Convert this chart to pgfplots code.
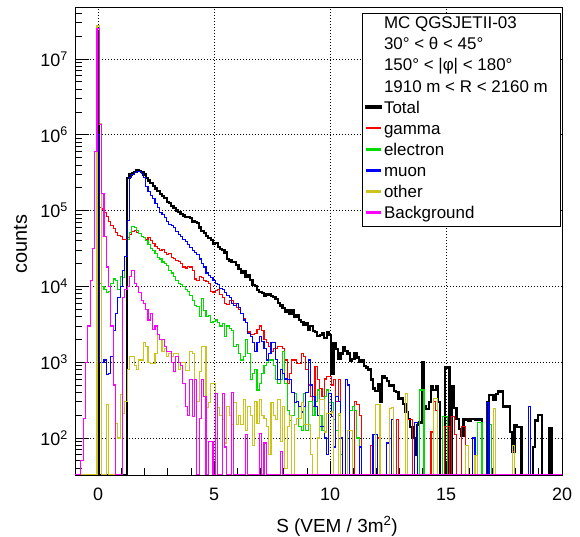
\documentclass[border=0pt]{standalone}
\usepackage{fontspec}
\setmainfont{Liberation Sans}
\usepackage{pgfplots}
\pgfplotsset{compat=1.18}
\definecolor{cTot}{RGB}{0,0,0}
\definecolor{cGam}{RGB}{255,0,0}
\definecolor{cEle}{RGB}{0,220,0}
\definecolor{cMu}{RGB}{0,0,255}
\definecolor{cOth}{RGB}{205,195,30}
\definecolor{cBkg}{RGB}{255,0,255}
\begin{document}
\begin{tikzpicture}
\begin{axis}[
  scale only axis, width=487bp, height=468bp,
  xmin=-1, xmax=20, ymode=log, ymin=32.5, ymax=4.85e7,
  axis line style={line width=0.9bp},
  tick align=inside, xtick pos=lower, ytick pos=lower,
  major tick length=14bp, minor tick length=7bp,
  every tick/.style={black, line width=0.8bp},
  xtick={0,5,10,15,20}, xticklabels={0,5,10,15,20},
  minor xtick={-1,1,2,3,4,6,7,8,9,11,12,13,14,16,17,18,19},
  ytick={1e2,1e3,1e4,1e5,1e6,1e7},
  yticklabels={10\textsuperscript{2},10\textsuperscript{3},10\textsuperscript{4},10\textsuperscript{5},10\textsuperscript{6},10\textsuperscript{7}},
  minor ytick={40,50,60,70,80,90,200,300,400,500,600,700,800,900,2e3,3e3,4e3,5e3,6e3,7e3,8e3,9e3,2e4,3e4,4e4,5e4,6e4,7e4,8e4,9e4,2e5,3e5,4e5,5e5,6e5,7e5,8e5,9e5,2e6,3e6,4e6,5e6,6e6,7e6,8e6,9e6,2e7,3e7,4e7},
  xmajorgrids, ymajorgrids,
  major grid style={black, line width=0.8bp, dash pattern=on 0.8bp off 2.2bp},
  tick label style={font=\fontsize{18}{20}\selectfont},
  xticklabel style={anchor=north, inner sep=0pt, yshift=-13bp},
  yticklabel style={anchor=east, inner sep=0pt, xshift=-7bp},
  xlabel={S (VEM / 3m\textsuperscript{2})},
  xlabel style={at={(rel axis cs:0.538,0)}, anchor=base, yshift=-57bp, font=\fontsize{19}{21}\selectfont},
  legend style={at={(rel axis cs:0.5887,0.9878)}, anchor=north west, draw=black, line width=0.9bp, fill=white,
    inner xsep=3.3bp, inner ysep=1bp, row sep=0pt, font=\fontsize{17}{21}\selectfont,
    nodes={inner sep=0pt, text height=14.6bp, text depth=6.5bp},
    /tikz/every odd column/.append style={column sep=2.4bp}},
  legend cell align=left,
  legend style={cells={anchor=base west}},
  legend image code/.code={\fill[#1] (0bp,5.4bp) rectangle (14bp,6.7bp);},
]
\addlegendimage{empty legend}\addlegendentry{MC QGSJETII-03}
\addlegendimage{empty legend}\addlegendentry{30° < θ < 45°}
\addlegendimage{empty legend}\addlegendentry{150° < |φ| < 180°}
\addlegendimage{empty legend}\addlegendentry{\makebox[173bp][l]{1910 m < R < 2160 m}}

% Total
\addplot[const plot, cTot, line width=2.2bp] coordinates {
(-1,32.5) (-0.05,2.3e7) (0.05,32.5)
(1.25,2.7e5) (1.35,3.0e5) (1.45,3.1e5) (1.55,3.2e5) (1.65,3.4e5) (1.75,3.35e5) (1.85,3.2e5) (1.95,3.0e5)
(2.05,2.7e5) (2.15,2.5e5) (2.25,2.3e5) (2.35,2.1e5) (2.45,1.95e5) (2.55,1.8e5) (2.65,1.65e5) (2.75,1.55e5) (2.85,1.45e5) (2.95,1.3e5)
(3.05,1.25e5) (3.15,1.15e5) (3.25,1.08e5) (3.35,1.0e5) (3.45,9.6e4) (3.55,9.0e4) (3.65,8.6e4) (3.75,8.3e4) (3.85,8.2e4) (3.95,7.9e4)
(4.05,7.2e4) (4.15,7.0e4) (4.25,6.8e4) (4.35,6.0e4) (4.45,5.4e4) (4.55,5.1e4) (4.65,4.6e4) (4.75,4.3e4) (4.85,4.1e4) (4.95,3.6e4)
(5.05,3.7e4) (5.15,3.3e4) (5.25,3.1e4) (5.35,3.0e4) (5.45,2.8e4) (5.55,2.3e4) (5.65,2.2e4) (5.75,2.1e4) (5.85,2.1e4) (5.95,1.9e4)
(6.05,1.7e4) (6.15,1.5e4) (6.25,1.6e4) (6.35,1.35e4) (6.45,1.4e4) (6.55,1.2e4) (6.65,1.05e4) (6.75,1.0e4) (6.85,9.0e3) (6.95,8.5e3)
(7.05,8.2e3) (7.15,7.4e3) (7.25,7.8e3) (7.35,8.0e3) (7.45,7.5e3) (7.55,7.2e3) (7.65,6.8e3) (7.75,6.0e3) (7.85,5.6e3) (7.95,5.2e3)
(8.05,4.6e3) (8.15,4.9e3) (8.25,4.3e3) (8.35,4.8e3) (8.45,4.0e3) (8.55,4.2e3) (8.65,3.6e3) (8.75,3.4e3) (8.85,3.1e3) (8.95,3.3e3)
(9.05,2.7e3) (9.15,3.0e3) (9.25,2.6e3) (9.35,2.5e3) (9.45,2.2e3) (9.55,2.3e3) (9.65,2.4e3) (9.75,2.1e3) (9.85,2.5e3) (9.95,2.3e3)
(10.05,700) (10.15,1.8e3) (10.25,1.5e3) (10.35,1.1e3) (10.45,1.3e3) (10.55,1.6e3) (10.65,1.4e3) (10.75,1.3e3) (10.85,1.05e3) (10.95,1.1e3)
(11.05,1.3e3) (11.15,1.15e3) (11.25,1.0e3) (11.35,1.05e3) (11.45,900) (11.55,850) (11.65,800) (11.75,590) (11.85,450) (11.95,420)
(12.05,520) (12.15,300) (12.25,650) (12.35,620) (12.45,560) (12.55,480) (12.65,500) (12.75,420) (12.85,400) (12.95,330)
(13.05,340) (13.15,280) (13.25,220) (13.35,180) (13.45,140) (13.55,100) (13.65,60) (13.75,150) (13.85,160) (13.95,1000)
(14.05,260) (14.15,240) (14.25,300) (14.35,480) (14.45,430) (14.55,480) (14.65,300) (14.75,32.5) (14.95,850)
(15.05,850) (15.15,32.5) (15.25,480) (15.35,250) (15.45,180) (15.55,130) (15.65,107) (15.75,180) (15.85,175) (15.95,170)
(16.05,180) (16.15,180) (16.25,175) (16.35,175) (16.45,175) (16.55,32.5) (16.75,300) (16.85,370) (16.95,370)
(17.05,320) (17.15,380) (17.25,420) (17.35,410) (17.45,260) (17.55,260) (17.65,260) (17.75,120) (17.85,66) (17.95,150)
(18.05,140) (18.15,140) (18.25,32.5) (18.75,76) (18.85,170) (18.95,200) (19.05,200) (19.15,32.5) (19.45,134) (19.55,32.5) (20,32.5)
};
\addlegendentry{Total}

% gamma
\addplot[const plot, cGam, line width=1.1bp] coordinates {
(-1,32.5) (-0.05,1e6) (0.05,1.1e5) (0.15,1.05e5) (0.25,9.5e4) (0.35,8.4e4) (0.45,7.1e4) (0.55,6.3e4) (0.65,5.8e4) (0.75,5.2e4) (0.85,4.7e4) (0.95,4.5e4)
(1.05,4.2e4) (1.15,4.1e4) (1.25,4.4e4) (1.35,4.8e4) (1.45,5.3e4) (1.55,5.4e4) (1.65,5.1e4) (1.75,5.0e4) (1.85,4.6e4) (1.95,4.4e4)
(2.05,4.1e4) (2.15,4.4e4) (2.25,4.0e4) (2.35,3.7e4) (2.45,3.4e4) (2.55,3.2e4) (2.65,3.0e4) (2.75,3.1e4) (2.85,2.8e4) (2.95,2.6e4)
(3.05,2.7e4) (3.15,2.4e4) (3.25,2.35e4) (3.35,2.2e4) (3.45,2.15e4) (3.55,2.0e4) (3.65,1.8e4) (3.75,1.75e4) (3.85,1.85e4) (3.95,1.8e4)
(4.05,1.6e4) (4.15,1.25e4) (4.25,1.2e4) (4.35,1.35e4) (4.45,1.3e4) (4.55,1.2e4) (4.65,1.15e4) (4.75,1.1e4) (4.85,8.5e3) (4.95,8.2e3)
(5.05,8.9e3) (5.15,9.0e3) (5.25,7.8e3) (5.35,7.2e3) (5.45,6.0e3) (5.55,5.8e3) (5.65,6.5e3) (5.75,6.6e3) (5.85,6.0e3) (5.95,5.2e3)
(6.05,4.9e3) (6.15,4.4e3) (6.25,3.8e3) (6.35,3.3e3) (6.45,2.5e3) (6.55,2.3e3) (6.65,2.3e3) (6.75,2.4e3) (6.85,2.7e3) (6.95,3.0e3)
(7.05,2.6e3) (7.15,2.0e3) (7.25,1.8e3) (7.35,1.6e3) (7.45,1.4e3) (7.55,1.5e3) (7.65,1.5e3) (7.75,1.6e3) (7.85,1.6e3) (7.95,1.5e3)
(8.05,1.07e3) (8.15,520) (8.25,700) (8.35,1.07e3) (8.45,1.07e3) (8.55,950) (8.65,950) (8.75,1.3e3) (8.85,1.2e3) (8.95,800)
(9.05,500) (9.15,350) (9.25,260) (9.35,870) (9.45,590) (9.55,450) (9.65,350) (9.75,600) (9.85,640) (9.95,640)
(10.05,500) (10.15,590) (10.25,300) (10.35,590) (10.45,60) (10.55,32.5) (11.05,300) (11.15,275) (11.25,200) (11.35,32.5)
(11.75,80) (11.85,32.5) (12.05,100) (12.15,32.5) (12.85,175) (12.95,32.5) (13.35,175) (13.45,175) (13.55,32.5)
(14.35,120) (14.45,300) (14.55,230) (14.65,32.5) (14.95,140) (15.05,140) (15.15,32.5) (15.25,190) (15.35,110) (15.45,32.5)
(15.65,140) (15.75,140) (15.85,32.5) (17.85,66) (17.95,32.5) (20,32.5)
};
\addlegendentry{gamma}

% electron
\addplot[const plot, cEle, line width=1.1bp] coordinates {
(-1,32.5) (-0.05,1e6) (0.05,1.1e4) (0.15,1.0e4) (0.25,9.0e3) (0.35,8.2e3) (0.45,8.5e3) (0.55,1.1e4) (0.65,1.25e4) (0.75,1.2e4) (0.85,9.0e3) (0.95,1.35e4)
(1.05,1.3e4) (1.15,2.5e4) (1.25,4.1e4) (1.35,5.2e4) (1.45,6.1e4) (1.55,6.0e4) (1.65,5.4e4) (1.75,5.0e4) (1.85,4.6e4) (1.95,4.4e4)
(2.05,4.0e4) (2.15,3.6e4) (2.25,3.2e4) (2.35,3.0e4) (2.45,2.7e4) (2.55,2.4e4) (2.65,2.3e4) (2.75,2.1e4) (2.85,2.0e4) (2.95,1.9e4)
(3.05,1.6e4) (3.15,1.5e4) (3.25,1.35e4) (3.35,1.2e4) (3.45,1.1e4) (3.55,1.05e4) (3.65,1.0e4) (3.75,9.0e3) (3.85,8.6e3) (3.95,7.6e3)
(4.05,6.6e3) (4.15,5.6e3) (4.25,5.4e3) (4.35,4.0e3) (4.45,6.9e3) (4.55,4.8e3) (4.65,4.0e3) (4.75,4.1e3) (4.85,3.3e3) (4.95,3.4e3)
(5.05,3.6e3) (5.15,3.3e3) (5.25,3.0e3) (5.35,3.2e3) (5.45,2.2e3) (5.55,3.0e3) (5.65,2.8e3) (5.75,2.6e3) (5.85,1.6e3) (5.95,1.7e3)
(6.05,1.3e3) (6.15,1.07e3) (6.25,1.2e3) (6.35,2.0e3) (6.45,1.3e3) (6.55,590) (6.65,700) (6.75,800) (6.85,430) (6.95,520)
(7.05,700) (7.15,900) (7.25,1.0e3) (7.35,1.07e3) (7.45,1.07e3) (7.55,900) (7.65,590) (7.75,520) (7.85,590) (7.95,1.4e3)
(8.05,520) (8.15,230) (8.25,170) (8.35,200) (8.45,390) (8.55,300) (8.65,140) (8.75,125) (8.85,390) (8.95,125)
(9.05,300) (9.15,300) (9.25,200) (9.35,300) (9.45,430) (9.55,200) (9.65,125) (9.75,350) (9.85,430) (9.95,290)
(10.05,290) (10.15,175) (10.25,125) (10.35,200) (10.45,60) (10.55,32.5) (10.85,230) (10.95,260) (11.05,230) (11.15,100) (11.25,32.5)
(13.85,430) (13.95,430) (14.05,32.5) (14.85,190) (14.95,190) (15.05,32.5) (16.35,160) (16.45,160) (16.55,32.5) (16.85,150) (16.95,32.5) (20,32.5)
};
\addlegendentry{electron}

% muon
\addplot[const plot, cMu, line width=1.1bp] coordinates {
(-1,32.5) (-0.05,1e6) (0.05,1.0e3) (0.15,1.0e3) (0.25,1.07e3) (0.35,680) (0.45,700) (0.55,1.2e3) (0.65,2.6e3) (0.75,4.4e3) (0.85,7.2e3) (0.95,1.0e4)
(1.05,1.6e4) (1.15,2.5e4) (1.25,7.5e4) (1.35,2.7e5) (1.45,3.0e5) (1.55,3.2e5) (1.65,3.3e5) (1.75,3.3e5) (1.85,3.1e5) (1.95,2.7e5)
(2.05,2.1e5) (2.15,1.8e5) (2.25,1.6e5) (2.35,1.45e5) (2.45,1.25e5) (2.55,1.1e5) (2.65,9.5e4) (2.75,8.8e4) (2.85,8.0e4) (2.95,7.2e4)
(3.05,6.6e4) (3.15,6.3e4) (3.25,6.0e4) (3.35,5.3e4) (3.45,4.8e4) (3.55,4.5e4) (3.65,4.2e4) (3.75,3.9e4) (3.85,3.6e4) (3.95,3.3e4)
(4.05,3.0e4) (4.15,2.8e4) (4.25,2.6e4) (4.35,2.3e4) (4.45,2.0e4) (4.55,1.8e4) (4.65,1.5e4) (4.75,1.4e4) (4.85,1.3e4) (4.95,1.2e4)
(5.05,1.1e4) (5.15,1.05e4) (5.25,9.5e3) (5.35,9.0e3) (5.45,8.2e3) (5.55,7.5e3) (5.65,7.2e3) (5.75,6.0e3) (5.85,5.6e3) (5.95,6.0e3)
(6.05,5.2e3) (6.15,4.4e3) (6.25,3.6e3) (6.35,3.3e3) (6.45,2.4e3) (6.55,2.2e3) (6.65,1.8e3) (6.75,1.4e3) (6.85,1.8e3) (6.95,2.2e3)
(7.05,1.9e3) (7.15,1.5e3) (7.25,1.07e3) (7.35,1.3e3) (7.45,1.8e3) (7.55,1.8e3) (7.65,1.1e3) (7.75,590) (7.85,800) (7.95,700)
(8.05,600) (8.15,590) (8.25,590) (8.35,400) (8.45,290) (8.55,300) (8.65,260) (8.75,220) (8.85,260) (8.95,400)
(9.05,1.07e3) (9.15,500) (9.25,350) (9.35,260) (9.45,200) (9.55,140) (9.65,140) (9.75,100) (9.85,60) (9.95,390)
(10.05,190) (10.15,76) (10.25,350) (10.35,300) (10.45,100) (10.55,32.5) (10.65,590) (10.75,500) (10.85,32.5)
(11.25,76) (11.35,32.5) (11.85,110) (11.95,110) (12.05,32.5) (12.45,86) (12.55,32.5) (12.65,175) (12.75,32.5)
(13.65,160) (13.75,32.5) (16.15,100) (16.25,32.5) (16.75,290) (16.85,32.5) (18.55,260) (18.65,32.5) (20,32.5)
};
\addlegendentry{muon}

% other
\addplot[const plot, cOth, line width=1.1bp] coordinates {
(-1,32.5) (-0.05,2.8e7) (0.05,1.4e6) (0.15,32.5) (0.35,275) (0.45,32.5) (0.75,155) (0.85,100) (0.95,370)
(1.05,210) (1.15,300) (1.25,800) (1.35,1.2e3) (1.45,1.2e3) (1.55,900) (1.65,800) (1.75,1.07e3) (1.85,1.07e3) (1.95,1.8e3)
(2.05,1.6e3) (2.15,1.0e3) (2.25,950) (2.35,950) (2.45,1.3e3) (2.55,2.3e3) (2.65,2.0e3) (2.75,1.4e3) (2.85,1.5e3) (2.95,1.2e3)
(3.05,1.3e3) (3.15,1.2e3) (3.25,1.3e3) (3.35,1.3e3) (3.45,800) (3.55,1.0e3) (3.65,1.0e3) (3.75,770) (3.85,770) (3.95,1.4e3)
(4.05,1.3e3) (4.15,590) (4.25,300) (4.35,760) (4.45,1.6e3) (4.55,1.6e3) (4.65,250) (4.75,290) (4.85,520) (4.95,520)
(5.05,390) (5.15,250) (5.25,200) (5.35,175) (5.45,86) (5.55,260) (5.65,200) (5.75,150) (5.85,290) (5.95,150)
(6.05,200) (6.15,150) (6.25,320) (6.35,125) (6.45,260) (6.55,200) (6.65,80) (6.75,300) (6.85,155) (6.95,320)
(7.05,200) (7.15,180) (7.25,140) (7.35,60) (7.45,290) (7.55,200) (7.65,175) (7.75,320) (7.85,90) (7.95,260)
(8.05,40) (8.15,140) (8.25,200) (8.35,32.5) (8.45,150) (8.55,180) (8.65,180) (8.75,290) (8.85,150) (8.95,150)
(9.05,150) (9.15,60) (9.25,32.5) (9.45,100) (9.55,320) (9.65,320) (9.75,120) (9.85,210) (9.95,210)
(10.05,220) (10.15,32.5) (10.35,213) (10.45,32.5) (10.75,125) (10.85,125) (10.95,32.5) (11.95,275) (12.05,275) (12.15,32.5)
(12.55,245) (12.65,250) (12.75,32.5) (13.25,390) (13.35,32.5) (14.45,330) (14.55,330) (14.65,32.5) (15.85,80) (15.95,32.5)
(16.25,58) (16.35,32.5) (17.05,245) (17.15,32.5) (17.85,80) (17.95,32.5) (20,32.5)
};
\addlegendentry{other}

% Background
\addplot[const plot, cBkg, line width=1.1bp] coordinates {
(-1,32.5) (-0.75,50) (-0.65,180) (-0.55,1.0e3) (-0.45,3.0e3) (-0.35,1.2e4) (-0.25,3.2e4) (-0.15,6.0e5) (-0.05,2.5e7)
(0.05,1.35e6) (0.15,1.7e5) (0.25,4.6e4) (0.35,1.8e4) (0.45,1.0e4) (0.55,3.0e3) (0.65,500) (0.75,32.5)
(1.05,7.2e3) (1.15,9.0e3) (1.25,1.0e4) (1.35,1.35e4) (1.45,1.6e4) (1.55,1.1e4) (1.65,1.0e4) (1.75,8.2e3) (1.85,6.6e3) (1.95,6.0e3)
(2.05,4.9e3) (2.15,3.6e3) (2.25,4.4e3) (2.35,2.7e3) (2.45,3.0e3) (2.55,2.3e3) (2.65,2.0e3) (2.75,2.0e3) (2.85,1.6e3) (2.95,1.4e3)
(3.05,1.4e3) (3.15,1.0e3) (3.25,760) (3.35,1.2e3) (3.45,1.0e3) (3.55,900) (3.65,520) (3.75,260) (3.85,200) (3.95,590)
(4.05,190) (4.15,590) (4.25,32.5) (4.35,180) (4.45,590) (4.55,350) (4.65,32.5) (4.75,90) (4.85,90) (4.95,32.5)
(5.05,390) (5.15,32.5) (5.35,390) (5.45,76) (5.55,32.5) (5.75,400) (5.85,32.5) (6.35,110) (6.45,32.5)
(6.95,115) (7.05,32.5) (7.15,86) (7.25,32.5) (7.85,66) (7.95,32.5) (20,32.5)
};
\addlegendentry{Background}
\end{axis}
\node[rotate=90, anchor=base, inner sep=0pt, font=\fontsize{20}{22}\selectfont] at (-48bp,231bp) {counts};
\pgfresetboundingbox
\path (-75bp,-62bp) rectangle (505bp,475bp);
\end{tikzpicture}
\end{document}
